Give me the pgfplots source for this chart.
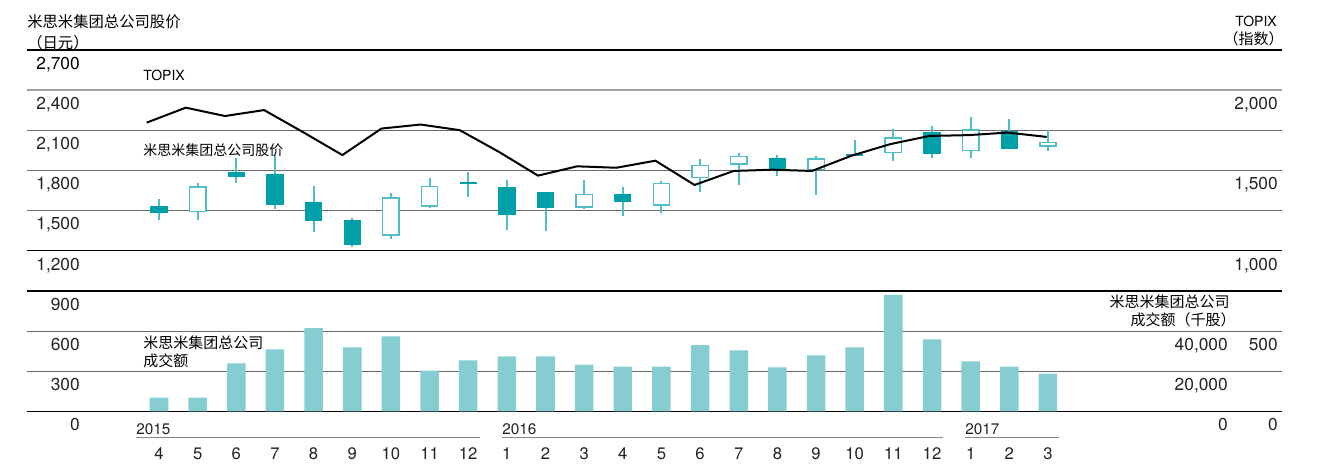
\documentclass[border=0pt]{standalone}
\usepackage{pgfplots}
\pgfplotsset{compat=1.18}
\usepackage{pgfplotstable}
\usepackage{fontspec}
\setmainfont{TeX Gyre Heros}
\newfontfamily\cjk{Noto Sans CJK SC}
\definecolor{barc}{RGB}{134,205,210}
\definecolor{dark}{RGB}{0,160,168}
\definecolor{wick}{RGB}{80,190,198}
\definecolor{gridd}{RGB}{105,105,105}
\definecolor{gridl}{RGB}{160,160,160}
\definecolor{txt}{RGB}{35,35,35}

% down candles (close < open): month index, open, high, low, close
\pgfplotstableread{
i o h l c
0 1535 1590 1427.5 1482.5
2 1792.5 1892.5 1707.5 1750
3 1777.5 1912.5 1512.5 1545
4 1567.5 1685 1337.5 1422.5
5 1432.5 1445 1225 1245
8 1717.5 1792.5 1602.5 1700
9 1675 1727.5 1352.5 1467.5
10 1642.5 1642.5 1350 1522.5
12 1627.5 1675 1460 1565
16 1892.5 1915 1762.5 1807.5
18 1920 2030 1907.5 1907.5
20 2087.5 2132.5 1890 1925
22 2097.5 2182.5 1962.5 1962.5
}\down
% up candles
\pgfplotstableread{
i o h l c
1 1487.5 1707.5 1427.5 1682.5
6 1312.5 1635 1287.5 1600
7 1530 1745 1517.5 1687.5
11 1522.5 1727.5 1512.5 1627.5
13 1537.5 1720 1485 1710
14 1745 1885 1640 1840
15 1842.5 1930 1695 1907.5
17 1802.5 1905 1617.5 1890
19 1927.5 2110 1867.5 2047.5
21 1942.5 2202.5 1890 2107.5
23 1977.5 2105 1947.5 2015
}\up
% volume (left scale)
\pgfplotstableread{
i v
0 103
1 103
2 359
3 464
4 622
5 479
6 562
7 306
8 381
9 412
10 412
11 351
12 336
13 336
14 495
15 457
16 329
17 419
18 479
19 871
20 539
21 374
22 336
23 283
}\vol
% TOPIX
\pgfplotstableread{
x t
-0.318 1798
0.694 1891
1.707 1839
2.719 1876
3.732 1738
4.744 1596
5.756 1761
6.769 1786
7.781 1751
8.794 1616
9.806 1468
10.818 1526
11.831 1517
12.843 1561
13.856 1410
14.868 1497
15.880 1505
16.893 1497
17.905 1591
18.918 1664
19.930 1715
20.942 1720
21.955 1736
22.967 1709
}\topix

\pgfplotsset{candle/.style={only marks, mark=*, mark size=0pt, mark options={draw=none, fill=none},
  error bars/.cd, y dir=plus, y explicit, error mark=none}}

\begin{document}
\begin{tikzpicture}
\begin{scope}[x=0.75pt,y=-0.75pt,shift={(-20.25pt,308.625pt)}]
\useasboundingbox (0,0) rectangle (1321,464);
% grid lines
\draw[black,line width=0.9pt] (27,50) -- (1282,50);
\draw[gridl,line width=1.5pt] (27,90.17) -- (1282,90.17);
\draw[gridd,line width=0.9pt] (27,130.33) -- (1282,130.33);
\draw[gridd,line width=0.9pt] (27,170.5) -- (1282,170.5);
\draw[gridd,line width=0.9pt] (27,210.67) -- (1282,210.67);
\draw[black,line width=0.9pt] (27,250.83) -- (1282,250.83);
\draw[black,line width=0.9pt] (27,291) -- (1282,291);
\draw[gridd,line width=0.9pt] (27,331.17) -- (1282,331.17);
\draw[gridd,line width=0.9pt] (27,371.33) -- (1282,371.33);
\draw[black,line width=0.9pt] (27,411.5) -- (1282,411.5);
\end{scope}

\begin{axis}[at={(0,0)}, anchor=south west, scale only axis,
  width=941.25pt, height=271.125pt,
  xmin=-3.415, xmax=29.055, ymin=0, ymax=2700,
  hide axis, clip=false]
\addplot[ybar, bar shift=0pt, bar width=13.9pt, fill=barc, draw=none] table[x=i,y=v] {\vol};
% wicks
\addplot[candle, error bar style={line width=1.5pt, draw=wick}]
  table[x=i, y=l, y error plus expr=\thisrow{h}-\thisrow{l}] {\down};
\addplot[candle, error bar style={line width=1.5pt, draw=wick}]
  table[x=i, y=l, y error plus expr=\thisrow{h}-\thisrow{l}] {\up};
% filled bodies
\addplot[candle, error bar style={line width=13pt, draw=dark}]
  table[x=i, y=c, y error plus expr=\thisrow{o}-\thisrow{c}] {\down};
% hollow bodies
\addplot[candle, error bar style={line width=13.4pt, draw=wick}]
  table[x=i, y=o, y error plus expr=\thisrow{c}-\thisrow{o}] {\up};
\addplot[candle, error bar style={line width=11.2pt, draw=white}]
  table[x=i, y expr=\thisrow{o}+10, y error plus expr=\thisrow{c}-\thisrow{o}-20] {\up};
\end{axis}

\begin{axis}[at={(0,0)}, anchor=south west, scale only axis,
  width=941.25pt, height=271.125pt,
  xmin=-3.415, xmax=29.055, ymin=0, ymax=2250,
  hide axis, clip=false]
\addplot[black, line width=1.5pt, mark=none] table[x=x,y=t] {\topix};
\end{axis}

\begin{scope}[x=0.75pt,y=-0.75pt,shift={(-20.25pt,308.625pt)}, every node/.style={inner sep=0pt, text=txt}]
\def\nf{\fontsize{13}{15}\selectfont}
% left axis numbers
\node[anchor=base east, font=\nf, text=black] at (80,69.3) {2,700};
\node[anchor=base east, font=\nf] at (80,109.5) {2,400};
\node[anchor=base east, font=\nf] at (80,149.6) {2,100};
\node[anchor=base east, font=\nf] at (80,189.8) {1,800};
\node[anchor=base east, font=\nf] at (80,230) {1,500};
\node[anchor=base east, font=\nf] at (80,270.1) {1,200};
\node[anchor=base east, font=\nf] at (80,310.3) {900};
\node[anchor=base east, font=\nf] at (80,350.5) {600};
\node[anchor=base east, font=\nf] at (80,390.6) {300};
\node[anchor=base east, font=\nf] at (80,430.8) {0};
% right TOPIX numbers
\node[anchor=base east, font=\nf] at (1278,109.5) {2,000};
\node[anchor=base east, font=\nf] at (1278,189.8) {1,500};
\node[anchor=base east, font=\nf] at (1278,270.1) {1,000};
% right volume numbers
\node[anchor=base east, font=\nf] at (1228,350.5) {40,000};
\node[anchor=base east, font=\nf] at (1278,350.5) {500};
\node[anchor=base east, font=\nf] at (1228,390.6) {20,000};
\node[anchor=base east, font=\nf] at (1228,430.8) {0};
\node[anchor=base east, font=\nf] at (1278,430.8) {0};
% titles
\node[anchor=west, font=\cjk\fontsize{11.5}{13}\selectfont, text=black] at (27,21.5) {米思米集团总公司股价};
\node[anchor=west, font=\cjk\fontsize{11.5}{13}\selectfont, text=black] at (27,42.5) {（日元）};
\node[anchor=east, font=\fontsize{10.5}{12}\selectfont, text=black] at (1277,21.5) {TOPIX};
\node[anchor=east, font=\cjk\fontsize{11.25}{13}\selectfont, text=black] at (1284,38.5) {（指数）};
\node[anchor=east, font=\cjk\fontsize{11.25}{13}\selectfont, text=black] at (1230,301.5) {米思米集团总公司};
\node[anchor=east, font=\cjk\fontsize{11.25}{13}\selectfont, text=black] at (1236,320) {成交额（千股）};
% in-plot labels
\node[anchor=west, font=\fontsize{10.5}{12}\selectfont, text=black] at (143,75) {TOPIX};
\node[anchor=west, font=\cjk\fontsize{10.5}{12}\selectfont, text=black] at (143,150.5) {米思米集团总公司股价};
\node[anchor=west, font=\cjk\fontsize{11.25}{13}\selectfont, text=black] at (143,342.7) {米思米集团总公司};
\node[anchor=west, font=\cjk\fontsize{11.25}{13}\selectfont, text=black] at (143,360.7) {成交额};
% years
\draw[gridl!85!black, line width=1.1pt] (136,437.7) -- (480,437.7);
\draw[gridl!85!black, line width=1.1pt] (502,437.7) -- (943,437.7);
\draw[gridl!85!black, line width=1.1pt] (965,437.7) -- (1059,437.7);
\node[anchor=base west, font=\fontsize{11.5}{13}\selectfont] at (136,434.3) {2015};
\node[anchor=base west, font=\fontsize{11.5}{13}\selectfont] at (502,434.3) {2016};
\node[anchor=base west, font=\fontsize{11.5}{13}\selectfont] at (965,434.3) {2017};
% months
\foreach \m [count=\k from 0] in {4,5,6,7,8,9,10,11,12,1,2,3,4,5,6,7,8,9,10,11,12,1,2,3}
  \node[anchor=base, font=\fontsize{12.5}{14}\selectfont] at ({159+38.65*\k},459.5) {\m};
\end{scope}
\end{tikzpicture}
\end{document}
